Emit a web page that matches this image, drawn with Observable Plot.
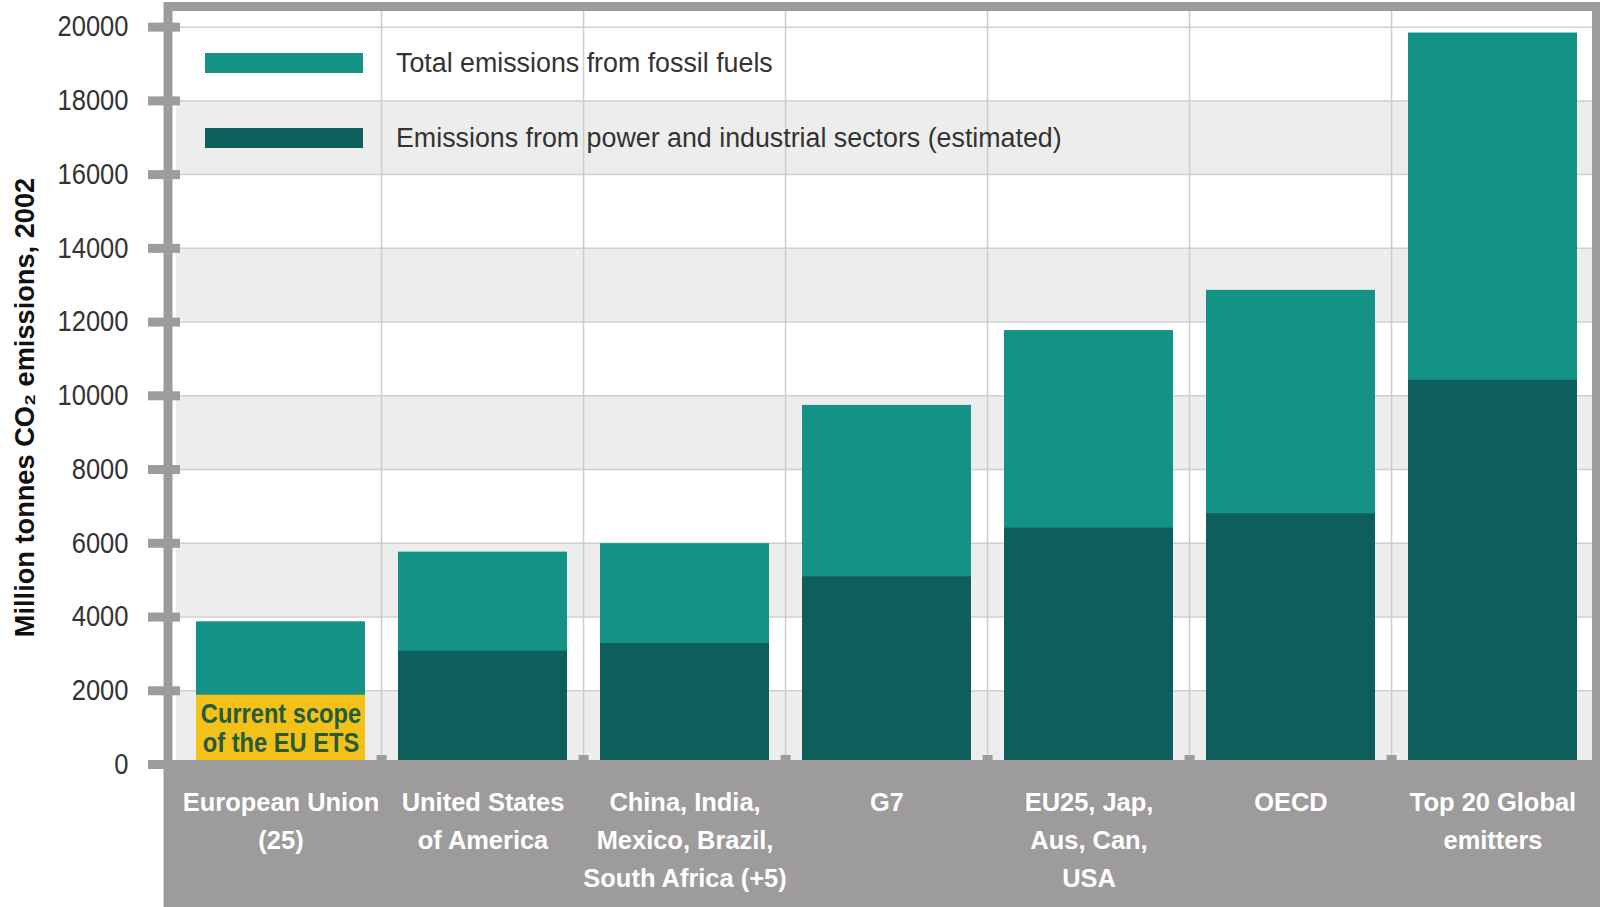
<!DOCTYPE html>
<html>
<head>
<meta charset="utf-8">
<script src="https://cdn.jsdelivr.net/npm/d3@7"></script>
<script src="https://cdn.jsdelivr.net/npm/@observablehq/plot@0.6"></script>
<style>
  html, body { margin: 0; padding: 0; background: #fff; }
  #wrap { position: relative; width: 1600px; height: 907px; font-family: "Liberation Sans", Arial, sans-serif; }
  .leg-sw { position: absolute; width: 158px; height: 20px; }
  .leg-tx { position: absolute; font-size: 26.8px; color: #333; line-height: 32px; white-space: nowrap; }
</style>
</head>
<body>
<div id="wrap"></div>
<script>
// ---- data ----
const categories = [
  "European Union (25)",
  "United States of America",
  "China, India, Mexico, Brazil, South Africa (+5)",
  "G7",
  "EU25, Jap, Aus, Can, USA",
  "OECD",
  "Top 20 Global emitters"
];
const categoryLabels = [
  "European Union\n(25)",
  "United States\nof America",
  "China, India,\nMexico, Brazil,\nSouth Africa (+5)",
  "G7",
  "EU25, Jap,\nAus, Can,\nUSA",
  "OECD",
  "Top 20 Global\nemitters"
];
const totalFossil = [3870, 5760, 5990, 9740, 11770, 12860, 19840];
const powerIndustry = [1880, 3070, 3280, 5090, 6410, 6800, 10420];
const yTicks = [0, 2000, 4000, 6000, 8000, 10000, 12000, 14000, 16000, 18000, 20000];
const seriesNames = ["Total emissions from fossil fuels", "Emissions from power and industrial sectors (estimated)"];
const yTitle = "Million tonnes CO\u2082 emissions, 2002";
const etsNote = "Current scope\nof the EU ETS";

// ---- layout / style ----
const W = 1600, H = 907, mL = 176, mR = 4, mT = 6, mB = 143;
const plotH = H - mT - mB;
const step = (W - mL - mR) / categories.length;
const yTop = 20560;
const GRAY = "#9d9b9c";
const TEAL = "#149286", DARK = "#0e5e5c", YELLOW = "#f4c118", ETS_TEXT = "#245c3a";
const FS_TICK = 29, FS_XLAB = 26.5, FS_TITLE = 27.2, FS_ETS = 27.5;
// horizontal squeeze per text size, to mimic the condensed typeface
const squeeze = {[FS_TICK]: 0.88, [FS_XLAB]: 0.96};
const squeezeEts = 0.86;

const rows = categories.map((c, i) => ({cat: c, label: categoryLabels[i], total: totalFossil[i], power: powerIndustry[i]}));
const tickStep = yTicks[1] - yTicks[0];
const bandStarts = yTicks.filter((t, i) => i % 2 === 0 && t < yTicks[yTicks.length - 1]);

const chart = Plot.plot({
  width: W, height: H,
  marginLeft: mL, marginRight: mR, marginTop: mT, marginBottom: mB,
  style: {background: "#fff", fontFamily: '"Liberation Sans", Arial, sans-serif', overflow: "visible"},
  x: {domain: categories, paddingInner: 0.165, paddingOuter: 0.0825, axis: null},
  y: {domain: [0, yTop]},
  marks: [
    Plot.rect(bandStarts, {y1: d => d, y2: d => d + tickStep, fill: "#ededed"}),
    Plot.ruleY(yTicks, {stroke: "#cfcfcf", strokeWidth: 1.5}),
    Plot.ruleX(categories.slice(1), {x: d => d, dx: -step / 2, stroke: "#cccccc", strokeWidth: 1.5}),
    Plot.barY(rows, {x: "cat", y: "total", fill: TEAL}),
    Plot.barY(rows, {x: "cat", y: "power", fill: (d, i) => i === 0 ? YELLOW : DARK}),
    Plot.text([rows[0]], {x: "cat", y: d => d.power / 2, text: () => etsNote, fill: ETS_TEXT, fontWeight: "bold", fontSize: FS_ETS, lineHeight: 1.05, dy: -2, className: "ets-note"}),
    Plot.frame({fill: GRAY, stroke: "none", insetTop: plotH - 1, insetBottom: -mB, insetLeft: -13, insetRight: -mR}),
    Plot.ruleX(categories.slice(1), {x: d => d, dx: -step / 2, stroke: GRAY, strokeWidth: 10, insetTop: plotH - 9}),
    Plot.frame({stroke: GRAY, strokeWidth: 9, fill: "none", insetLeft: -8.5}),
    Plot.text(rows, {x: "cat", text: "label", frameAnchor: "bottom", lineAnchor: "top", dy: 20, fill: "#fff", fontWeight: "bold", fontSize: FS_XLAB, lineHeight: 1.43}),
    Plot.axisY(yTicks, {tickSize: 32, tickPadding: 20, dx: 4, stroke: GRAY, strokeWidth: 9, fill: "#333", fontSize: FS_TICK, tickFormat: d3.format("d"), label: null}),
    Plot.text([yTitle], {frameAnchor: "left", textAnchor: "middle", rotate: -90, dx: -151.5, dy: 22, fontWeight: "bold", fontSize: FS_TITLE, fill: "#111"})
  ]
});

const wrap = document.getElementById("wrap");
wrap.appendChild(chart);

// condense text horizontally (non-rotated texts only)
function condense(textEl, f) {
  const spans = textEl.querySelectorAll("tspan");
  const els = spans.length ? Array.from(spans) : [textEl];
  els.forEach(el => {
    const len = el.getComputedTextLength();
    if (len > 0) {
      el.setAttribute("textLength", (len * f).toFixed(1));
      el.setAttribute("lengthAdjust", "spacingAndGlyphs");
    }
  });
}
chart.querySelectorAll("g[font-size]").forEach(g => {
  const f = g.classList.contains("ets-note") ? squeezeEts : squeeze[+g.getAttribute("font-size")];
  if (!f) return;
  g.querySelectorAll("text").forEach(t => condense(t, f));
});

// legend (inside the plot area)
const legendColors = [TEAL, DARK];
const legendTops = [53, 127.5];
seriesNames.forEach((name, i) => {
  const sw = document.createElement("div");
  sw.className = "leg-sw";
  sw.style.left = "205px";
  sw.style.top = legendTops[i] + "px";
  sw.style.background = legendColors[i];
  wrap.appendChild(sw);
  const tx = document.createElement("div");
  tx.className = "leg-tx";
  tx.style.left = "396px";
  tx.style.top = (legendTops[i] + 10 - 16) + "px";
  tx.textContent = name;
  wrap.appendChild(tx);
});
</script>
</body>
</html>
